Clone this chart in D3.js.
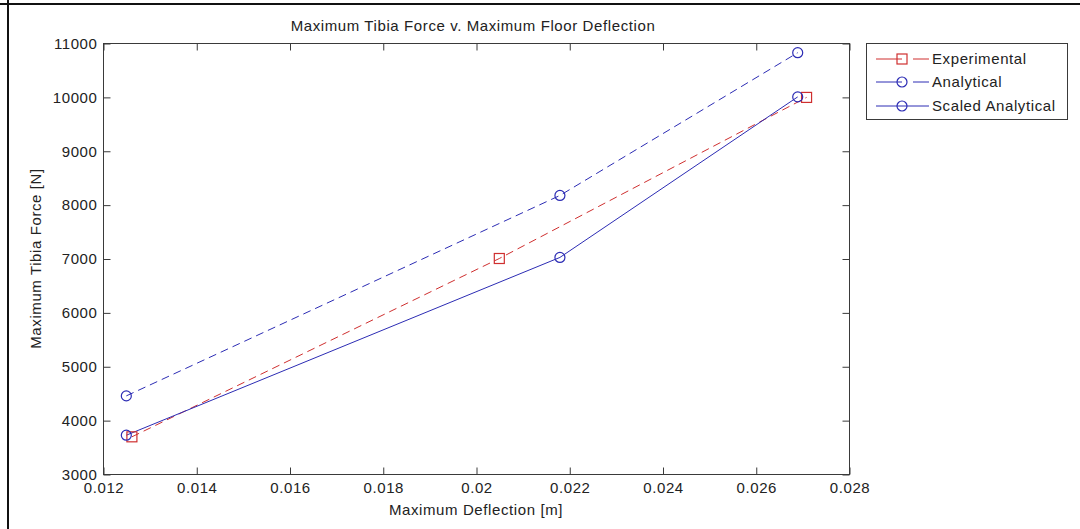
<!DOCTYPE html>
<html>
<head>
<meta charset="utf-8">
<script src="https://cdn.jsdelivr.net/npm/d3@7"></script>
<style>
  html, body { margin: 0; padding: 0; background: #fff; }
  svg { display: block; }
  text { font-family: "Liberation Sans", Arial, sans-serif; fill: #222; letter-spacing: 0.6px; }
</style>
</head>
<body>
<svg id="chart" width="1080" height="529"></svg>
<script>
// Measured floor deflection [m] and peak tibia force [N]
const expDeflection = [0.01262, 0.0205, 0.02709];
const expForce = [3690, 7000, 9990];
const anaDeflection = [0.0125, 0.0218, 0.0269];
const anaForce = [4450, 8170, 10820];
const scaledForce = [3720, 7020, 10000];

const xTicks = [0.012, 0.014, 0.016, 0.018, 0.02, 0.022, 0.024, 0.026, 0.028];
const xTickLabels = ["0.012", "0.014", "0.016", "0.018", "0.02", "0.022", "0.024", "0.026", "0.028"];
const yTicks = [3000, 4000, 5000, 6000, 7000, 8000, 9000, 10000, 11000];

const seriesNames = ["Experimental", "Analytical", "Scaled Analytical"];

const RED = "#cf2f2f";
const BLUE = "#2c2cb4";
const AXIS = "#3a3a3a";
const FONT = 15;

const series = [
  { name: seriesNames[0], xs: expDeflection, ys: expForce, color: RED, dashed: true, marker: "square" },
  { name: seriesNames[1], xs: anaDeflection, ys: anaForce, color: BLUE, dashed: true, marker: "circle" },
  { name: seriesNames[2], xs: anaDeflection, ys: scaledForce, color: BLUE, dashed: false, marker: "circle" }
];

const svg = d3.select("#chart");
const plot = { left: 103, right: 849, top: 43, bottom: 474 };

const x = d3.scaleLinear().domain([0.012, 0.028]).range([plot.left, plot.right]);
const y = d3.scaleLinear().domain([3000, 11000]).range([plot.bottom, plot.top]);

// figure frame (top and left edges)
svg.append("line").attr("x1", 0).attr("x2", 1080).attr("y1", 4).attr("y2", 4)
  .attr("stroke", "#111").attr("stroke-width", 2);
svg.append("line").attr("x1", 8).attr("x2", 8).attr("y1", 0).attr("y2", 529)
  .attr("stroke", "#111").attr("stroke-width", 2);

// axes box
svg.append("rect")
  .attr("x", plot.left + 0.5).attr("y", plot.top + 0.5)
  .attr("width", plot.right - plot.left).attr("height", plot.bottom - plot.top)
  .attr("fill", "#fff").attr("stroke", AXIS).attr("stroke-width", 1);

const fmtX = (d, i) => xTickLabels[i];

// bottom and top ticks (inward)
const xBottom = d3.axisBottom(x).tickValues(xTicks).tickFormat(fmtX).tickSize(-7).tickPadding(6);
const gxb = svg.append("g").attr("transform", `translate(0.5,${plot.bottom + 0.5})`).call(xBottom);
const xTop = d3.axisTop(x).tickValues(xTicks).tickFormat("").tickSize(-7);
const gxt = svg.append("g").attr("transform", `translate(0.5,${plot.top + 0.5})`).call(xTop);

// left and right ticks (inward)
const yLeft = d3.axisLeft(y).tickValues(yTicks).tickFormat(d3.format("d")).tickSize(-7).tickPadding(6);
const gyl = svg.append("g").attr("transform", `translate(${plot.left + 0.5},0.5)`).call(yLeft);
const yRight = d3.axisRight(y).tickValues(yTicks).tickFormat("").tickSize(-7);
const gyr = svg.append("g").attr("transform", `translate(${plot.right + 0.5},0.5)`).call(yRight);

[gxb, gxt, gyl, gyr].forEach(g => {
  g.select(".domain").remove();
  g.selectAll(".tick line").attr("stroke", AXIS);
  g.selectAll("text").attr("font-size", FONT).attr("font-family", "Liberation Sans, Arial, sans-serif").attr("fill", "#222");
});
gxb.selectAll("text").attr("dy", "0.9em").attr("y", 5);
gyl.selectAll("text").attr("x", -6);

// lines
const lineGen = d3.line().x(d => x(d[0])).y(d => y(d[1]));
series.forEach(s => {
  const pts = s.xs.map((v, i) => [v, s.ys[i]]);
  svg.append("path").datum(pts)
    .attr("d", lineGen)
    .attr("fill", "none")
    .attr("stroke", s.color)
    .attr("stroke-width", 1)
    .attr("stroke-dasharray", s.dashed ? "8,5" : null);
});

function drawMarker(g, type, cx, cy, color) {
  if (type === "square") {
    g.append("rect").attr("x", cx - 5).attr("y", cy - 5).attr("width", 10).attr("height", 10)
      .attr("fill", "none").attr("stroke", color).attr("stroke-width", 1.2);
  } else {
    g.append("circle").attr("cx", cx).attr("cy", cy).attr("r", 5)
      .attr("fill", "none").attr("stroke", color).attr("stroke-width", 1.2);
  }
}

// markers
series.forEach(s => {
  const g = svg.append("g");
  s.xs.forEach((v, i) => drawMarker(g, s.marker, x(v), y(s.ys[i]), s.color));
});

// title and axis labels
svg.append("text").attr("x", (plot.left + plot.right) / 2 - 3).attr("y", 31)
  .attr("text-anchor", "middle").attr("font-size", FONT)
  .text("Maximum Tibia Force v. Maximum Floor Deflection");
svg.append("text").attr("x", (plot.left + plot.right) / 2).attr("y", 515)
  .attr("text-anchor", "middle").attr("font-size", FONT)
  .text("Maximum Deflection [m]");
svg.append("text")
  .attr("transform", `translate(41,${(plot.top + plot.bottom) / 2}) rotate(-90)`)
  .attr("text-anchor", "middle").attr("font-size", FONT)
  .text("Maximum Tibia Force [N]");

// legend: dashed samples read as dash, marker, gap, dash
const leg = svg.append("g");
leg.append("rect").attr("x", 866.5).attr("y", 43.5).attr("width", 201).attr("height", 76)
  .attr("fill", "#fff").attr("stroke", AXIS).attr("stroke-width", 1);
const legY = [59, 82, 106];
series.forEach((s, i) => {
  const ly = legY[i];
  const segs = s.dashed ? [[876, 902], [913, 929]] : [[876, 929]];
  segs.forEach(([a, b]) => {
    leg.append("line").attr("x1", a).attr("x2", b).attr("y1", ly).attr("y2", ly)
      .attr("stroke", s.color).attr("stroke-width", 1);
  });
  drawMarker(leg, s.marker, 902, ly, s.color);
  leg.append("text").attr("x", 932).attr("y", ly).attr("dy", "0.35em")
    .attr("font-size", FONT).text(s.name);
});
</script>
</body>
</html>
